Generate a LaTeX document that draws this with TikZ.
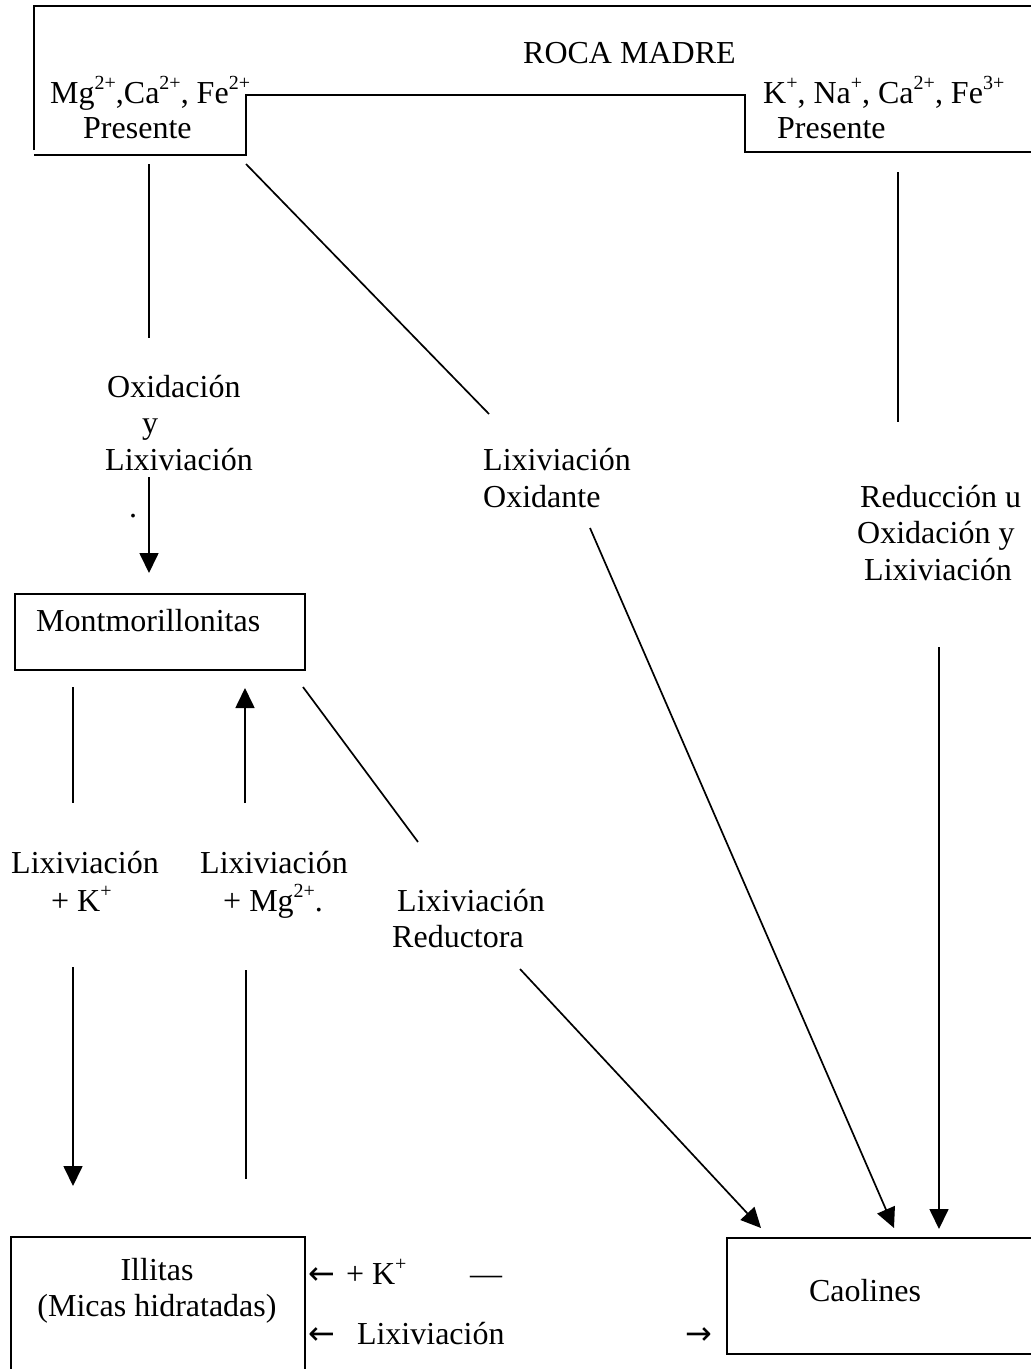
\documentclass[tikz,border=0pt]{standalone}
\usepackage{fontspec}
\setmainfont{Liberation Serif}
\newfontfamily\arrowfont{DejaVu Sans}
\usetikzlibrary{arrows.meta}
% raised ion charge
\newcommand\ionsup[1]{\raisebox{14pt}{\fontsize{20}{20}\selectfont #1}}

\begin{document}
\begin{tikzpicture}[x=1pt,y=-1pt,
  font=\fontsize{32}{37}\selectfont,
  txt/.style={inner sep=0pt, anchor=base west},
  ctxt/.style={inner sep=0pt, anchor=base},
  conn/.style={line width=1.7pt},
  arr/.style={conn, -{Triangle[length=20pt,width=19pt]}},
  frame/.style={line width=2.4pt},
  box/.style={draw, line width=2.2pt, inner sep=0pt, anchor=north west}]

\useasboundingbox (0,0) rectangle (1031,1369);

% ---------- parent rock outline ----------
\draw[frame] (34,150) -- (34,6) -- (1040,6);
\draw[frame] (34,155) -- (246,155) -- (246,95) -- (745,95) -- (745,152) -- (1040,152);
\node[txt] (roca) at (523,63) {ROCA MADRE};
\node[txt] (ionsL) at (50,103) {Mg\ionsup{2+},Ca\ionsup{2+}, Fe\ionsup{2+}};
\node[txt] (presL) at (83,138) {Presente};
\node[txt] (ionsR) at (763,103) {K\ionsup{+}, Na\ionsup{+}, Ca\ionsup{2+}, Fe\ionsup{3+}};
\node[txt] (presR) at (777,138) {Presente};

% ---------- boxes ----------
\node[box, minimum width=290pt, minimum height=76pt] (mont) at (14,593) {};
\node[txt] (montT) at (36,631) {Montmorillonitas};
\node[box, minimum width=294pt, minimum height=170pt] (illi) at (10,1236) {};
\node[ctxt] (illiT1) at (157,1280) {Illitas};
\node[ctxt] (illiT2) at (157,1316) {(Micas hidratadas)};
\node[box, minimum width=320pt, minimum height=116pt] (caol) at (726,1237) {};
\node[ctxt] (caolT) at (865,1301) {Caolines};

% ---------- labels ----------
\node[txt] (ox1) at (107,397) {Oxidación};
\node[txt] (ox2) at (142,433) {y};
\node[txt] (ox3) at (105,470) {Lixiviación};
\node[txt] (dot) at (129,517) {.};

\node[txt] (lo1) at (483,470) {Lixiviación};
\node[txt] (lo2) at (483,507) {Oxidante};

\node[txt] (ro1) at (860,507) {Reducción u};
\node[txt] (ro2) at (857,543) {Oxidación y};
\node[txt] (ro3) at (864,580) {Lixiviación};

\node[txt] (lk1) at (11,873) {Lixiviación};
\node[txt] (lk2) at (51,911) {+ K\ionsup{+}};
\node[txt] (lm1) at (200,873) {Lixiviación};
\node[txt] (lm2) at (223,911) {+ Mg\ionsup{2+}.};
\node[txt] (lr1) at (397,911) {Lixiviación};
\node[txt] (lr2) at (392,947) {Reductora};

\node[txt] (bk) at (308,1284) {{\arrowfont ←}\hspace{11pt}+ K\ionsup{+}};
\node[txt] (bdash) at (470,1284) {—};
\node[txt] (bl) at (308,1344) {{\arrowfont ←}\hspace{22pt}Lixiviación};
\node[txt] (br) at (685,1344) {{\arrowfont →}};

% ---------- connector end points ----------
\coordinate (a1) at (149,164);  \coordinate (a2) at (149,338);
\coordinate (a3) at (149,477);  \coordinate (a4) at (149,573);
\coordinate (b1) at (246,164);  \coordinate (b2) at (489,414);
\coordinate (b3) at (590,528);  \coordinate (b4) at (894,1228);
\coordinate (c1) at (898,172);  \coordinate (c2) at (898,422);
\coordinate (c3) at (939,647);  \coordinate (c4) at (939,1229);
\coordinate (d1) at (73,687);   \coordinate (d2) at (73,803);
\coordinate (d3) at (73,967);   \coordinate (d4) at (73,1186);
\coordinate (e1) at (245,803);  \coordinate (e2) at (245,688);
\coordinate (e3) at (246,1179); \coordinate (e4) at (246,970);
\coordinate (f1) at (303,687);  \coordinate (f2) at (418,842);
\coordinate (f3) at (520,969);  \coordinate (f4) at (761,1228);

% ---------- connectors ----------
\draw[conn] (a1) -- (a2);
\draw[arr]  (a3) -- (a4);
\draw[conn] (b1) -- (b2);
\draw[arr]  (b3) -- (b4);
\draw[conn] (c1) -- (c2);
\draw[arr]  (c3) -- (c4);
\draw[conn] (d1) -- (d2);
\draw[arr]  (d3) -- (d4);
\draw[arr]  (e1) -- (e2);
\draw[conn] (e3) -- (e4);
\draw[conn] (f1) -- (f2);
\draw[arr]  (f3) -- (f4);

\end{tikzpicture}
\end{document}
